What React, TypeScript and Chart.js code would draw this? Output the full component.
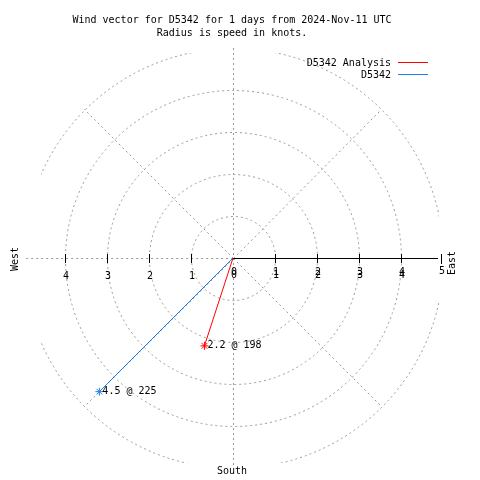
import React, { useEffect, useRef } from "react";
import { Chart, registerables } from "chart.js";

Chart.register(...registerables);

// ---- data ----
const seriesNames = ["D5342 Analysis", "D5342"];
const seriesColors = ["#ff0000", "#1a80e6"];
const speeds = [2.2, 4.5]; // knots
const directions = [198, 225]; // degrees (compass)
const rings = [1, 2, 3, 4, 5];
const rightTicks = [0, 1, 2, 3, 4];
const leftTicks = [4, 3, 2, 1];
const titleLines = [
  "Wind vector for D5342 for 1 days from 2024-Nov-11 UTC",
  "Radius is speed in knots.",
];

const FONT = "10px 'DejaVu Sans Mono', 'Liberation Mono', monospace";
const GRID = "#999999";

function toXY(speed: number, dir: number) {
  const a = (dir * Math.PI) / 180;
  return { x: speed * Math.sin(a), y: speed * Math.cos(a) };
}

const gridPlugin = {
  id: "polarGrid",
  beforeDatasetsDraw(chart: any) {
    const ctx = chart.ctx;
    const xs = chart.scales.x;
    const ys = chart.scales.y;
    const cx = xs.getPixelForValue(0);
    const cy = ys.getPixelForValue(0);
    const unit = xs.getPixelForValue(1) - cx;
    ctx.save();
    ctx.strokeStyle = GRID;
    ctx.lineWidth = 1;
    ctx.setLineDash([2, 3]);
    // rings, clipped to plot box
    ctx.save();
    ctx.beginPath();
    ctx.rect(41, 53, 439 - 41, 463 - 53);
    ctx.clip();
    rings.forEach((r) => {
      ctx.beginPath();
      ctx.arc(cx + 0.5, cy + 0.5, r * unit, 0, Math.PI * 2);
      ctx.stroke();
    });
    ctx.restore();
    // spokes
    const R = rings[rings.length - 1];
    [45, 135, 225, 315].forEach((d) => {
      const p = toXY(R, d);
      ctx.beginPath();
      ctx.moveTo(cx + 0.5, cy + 0.5);
      ctx.lineTo(xs.getPixelForValue(p.x), ys.getPixelForValue(p.y));
      ctx.stroke();
    });
    // vertical line
    ctx.beginPath();
    ctx.moveTo(cx + 0.5, ys.getPixelForValue(R));
    ctx.lineTo(cx + 0.5, ys.getPixelForValue(-R));
    ctx.stroke();
    // left horizontal
    ctx.beginPath();
    ctx.moveTo(xs.getPixelForValue(-R * 0.985), cy + 0.5);
    ctx.lineTo(cx, cy + 0.5);
    ctx.stroke();
    ctx.setLineDash([]);
    // right solid axis
    ctx.strokeStyle = "#000";
    ctx.beginPath();
    ctx.moveTo(cx, cy + 0.5);
    ctx.lineTo(xs.getPixelForValue(4.88), cy + 0.5);
    ctx.stroke();
    // ticks
    [-4, -3, -2, -1, 1, 2, 3, 4].forEach((t) => {
      const x = Math.round(xs.getPixelForValue(t)) + 0.5;
      ctx.beginPath();
      ctx.moveTo(x, cy - 4);
      ctx.lineTo(x, cy + 5);
      ctx.stroke();
    });
    const x5 = Math.round(xs.getPixelForValue(4.95)) + 0.5;
    ctx.beginPath();
    ctx.moveTo(x5, cy - 4);
    ctx.lineTo(x5, cy + 6);
    ctx.stroke();
    // tick labels
    ctx.fillStyle = "#000";
    ctx.font = FONT;
    ctx.textAlign = "center";
    ctx.textBaseline = "middle";
    rightTicks.forEach((t) => {
      const x = xs.getPixelForValue(t);
      ctx.fillText(String(t), x + 1, cy + 14);
      ctx.fillText(String(t), x + 1, cy + 17);
    });
    ctx.fillText("5", xs.getPixelForValue(5) - 1, cy + 13);
    leftTicks.forEach((t) => {
      ctx.fillText(String(t), xs.getPixelForValue(-t) + 1, cy + 18);
    });
    ctx.restore();
  },
};

const textPlugin = {
  id: "polarText",
  afterDatasetsDraw(chart: any) {
    const ctx = chart.ctx;
    const xs = chart.scales.x;
    const ys = chart.scales.y;
    ctx.save();
    ctx.fillStyle = "#000";
    ctx.font = FONT;
    ctx.textBaseline = "middle";
    // point labels
    speeds.forEach((s, i) => {
      const p = toXY(s, directions[i]);
      ctx.textAlign = "left";
      ctx.fillText(
        s.toFixed(1) + " @ " + directions[i],
        xs.getPixelForValue(p.x) + 3,
        ys.getPixelForValue(p.y)
      );
    });
    // title
    ctx.textAlign = "center";
    ctx.fillText(titleLines[0], 232, 20);
    ctx.fillText(titleLines[1], 232, 33);
    // South
    ctx.fillText("South", 232, 471);
    // West / East rotated
    ctx.save();
    ctx.translate(15, 259);
    ctx.rotate(-Math.PI / 2);
    ctx.fillText("West", 0, 0);
    ctx.restore();
    ctx.save();
    ctx.translate(452, 263);
    ctx.rotate(-Math.PI / 2);
    ctx.fillText("East", 0, 0);
    ctx.restore();
    // legend
    ctx.textAlign = "right";
    seriesNames.forEach((n, i) => {
      const y = 63 + i * 12;
      ctx.fillText(n, 391, y);
      ctx.strokeStyle = seriesColors[i];
      ctx.lineWidth = 1;
      ctx.beginPath();
      ctx.moveTo(398, y - 0.5);
      ctx.lineTo(428, y - 0.5);
      ctx.stroke();
    });
    ctx.restore();
  },
};

export default function App() {
  const ref = useRef<HTMLCanvasElement | null>(null);
  useEffect(() => {
    if (!ref.current) return;
    const datasets = seriesNames.map((name, i) => {
      const p = toXY(speeds[i], directions[i]);
      return {
        label: name,
        data: [
          { x: 0, y: 0 },
          { x: p.x, y: p.y },
        ],
        showLine: true,
        borderColor: seriesColors[i],
        backgroundColor: seriesColors[i],
        borderWidth: 1,
        pointStyle: "star" as const,
        pointRadius: [0, 4],
        pointBorderColor: seriesColors[i],
        pointBorderWidth: 1,
      };
    });
    const chart = new Chart(ref.current, {
      type: "scatter",
      data: { datasets },
      options: {
        animation: false,
        responsive: false,
        devicePixelRatio: 1,
        layout: { padding: { left: 23, right: 37, top: 48, bottom: 12 } },
        scales: {
          x: { type: "linear", min: -5, max: 5, display: false },
          y: { type: "linear", min: -5, max: 5, display: false },
        },
        plugins: {
          legend: { display: false },
          title: { display: false },
          tooltip: { enabled: false },
        },
      },
      plugins: [gridPlugin, textPlugin],
    });
    return () => chart.destroy();
  }, []);
  return (
    <div style={{ position: "absolute", left: 0, top: 0, width: 480, height: 480, background: "#fff" }}>
      <canvas ref={ref} width={480} height={480} />
    </div>
  );
}
